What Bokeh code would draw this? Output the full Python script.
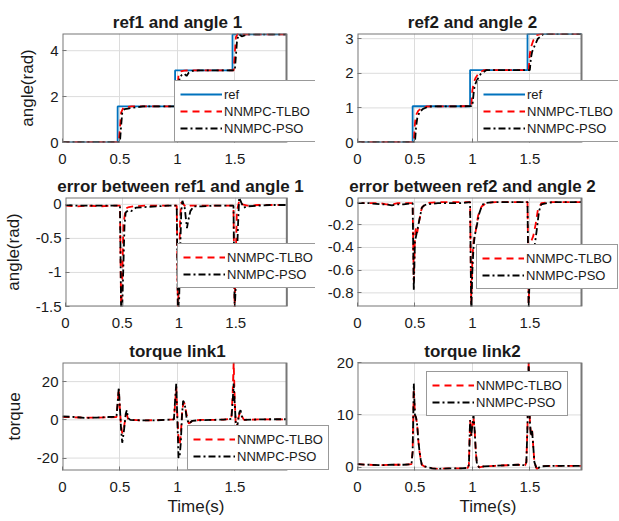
from bokeh.plotting import figure
from bokeh.layouts import column, row
from bokeh.models import Range1d, FixedTicker, CustomJSTickFormatter, Legend, LegendItem
from bokeh.embed import file_html
from bokeh.resources import INLINE

# ---------------- data ----------------
x_ticks = [0, 0.5, 1, 1.5]
x_end = 1.95

# panel 1: ref1 and angle 1
ref1_t = [0, 0.48, 0.48, 0.98, 0.98, 1.48, 1.48, 1.95]
ref1_y = [0, 0, 1.57, 1.57, 3.14, 3.14, 4.71, 4.71]
tlbo1_t = [0, 0.49, 0.50, 0.51, 0.53, 0.56, 0.60, 0.99, 1.00, 1.01, 1.03, 1.06, 1.10, 1.49, 1.50, 1.51, 1.53, 1.56, 1.60, 1.95]
tlbo1_y = [0.02, 0.02, 0.6, 1.3, 1.52, 1.55, 1.57, 1.57, 2.2, 2.95, 3.1, 3.13, 3.14, 3.14, 3.9, 4.6, 4.78, 4.72, 4.71, 4.71]
pso1_t = [0, 0.50, 0.51, 0.52, 0.54, 0.57, 0.62, 0.70, 1.00, 1.01, 1.02, 1.04, 1.06, 1.08, 1.10, 1.13, 1.18, 1.50, 1.51, 1.52, 1.54, 1.56, 1.58, 1.62, 1.95]
pso1_y = [0.02, 0.02, 0.7, 1.3, 1.45, 1.48, 1.52, 1.57, 1.57, 2.3, 2.85, 2.95, 3.0, 2.9, 3.05, 3.12, 3.14, 3.14, 3.8, 4.5, 4.72, 4.62, 4.66, 4.71, 4.71]

# panel 2: ref2 and angle 2
ref2_t = [0, 0.48, 0.48, 0.98, 0.98, 1.48, 1.48, 1.95]
ref2_y = [0, 0, 1.047, 1.047, 2.094, 2.094, 3.14, 3.14]
tlbo2_t = [0, 0.49, 0.50, 0.51, 0.53, 0.56, 0.60, 0.99, 1.00, 1.01, 1.03, 1.06, 1.10, 1.49, 1.50, 1.51, 1.53, 1.56, 1.60, 1.95]
tlbo2_y = [0.01, 0.01, 0.55, 0.8, 0.92, 1.0, 1.04, 1.05, 1.5, 1.72, 1.88, 2.02, 2.09, 2.09, 2.55, 2.75, 2.95, 3.1, 3.14, 3.14]
pso2_t = [0, 0.50, 0.51, 0.52, 0.54, 0.57, 0.62, 1.00, 1.01, 1.02, 1.04, 1.07, 1.12, 1.50, 1.51, 1.52, 1.54, 1.57, 1.62, 1.95]
pso2_y = [0.01, 0.01, 0.45, 0.7, 0.88, 0.97, 1.04, 1.05, 1.4, 1.65, 1.8, 1.97, 2.09, 2.09, 2.45, 2.62, 2.78, 3.0, 3.14, 3.14]

# panel 3: error between ref1 and angle 1
tlbo_e1_t = [0, 0.1, 0.2, 0.3, 0.4, 0.48, 0.49, 0.50, 0.51, 0.53, 0.56, 0.6, 0.7, 0.8, 0.9, 0.98, 0.99, 1.00, 1.01, 1.02, 1.04, 1.06, 1.1, 1.2, 1.3, 1.4, 1.48, 1.49, 1.50, 1.51, 1.53, 1.56, 1.6, 1.7, 1.8, 1.95]
tlbo_e1_y = [-0.02, -0.03, -0.02, -0.03, -0.02, -0.02, -1.57, -1.1, -0.3, -0.06, -0.04, -0.03, -0.02, -0.02, -0.02, -0.02, -1.57, -1.0, -0.2, 0.03, 0.0, -0.04, -0.02, -0.02, -0.02, -0.02, -0.02, -1.57, -0.8, -0.1, 0.05, 0.0, -0.02, -0.01, -0.01, -0.01]
pso_e1_t = [0, 0.1, 0.2, 0.3, 0.4, 0.48, 0.49, 0.50, 0.51, 0.52, 0.53, 0.55, 0.58, 0.62, 0.7, 0.8, 0.9, 0.98, 0.99, 1.00, 1.01, 1.02, 1.03, 1.05, 1.07, 1.08, 1.10, 1.13, 1.2, 1.3, 1.4, 1.48, 1.49, 1.50, 1.51, 1.52, 1.53, 1.55, 1.57, 1.6, 1.7, 1.8, 1.95]
pso_e1_y = [-0.01, -0.02, -0.02, -0.02, -0.02, -0.02, -1.57, -1.5, -0.9, -0.3, -0.12, -0.09, -0.1, -0.05, -0.04, -0.03, -0.02, -0.02, -1.57, -1.5, -0.7, -0.1, 0.05, -0.05, -0.35, -0.25, -0.1, -0.03, -0.03, -0.02, -0.02, -0.02, -1.57, -1.2, -0.8, -0.3, 0.1, 0.02, -0.05, -0.03, -0.02, -0.01, -0.01]

# panel 4: error between ref2 and angle 2
tlbo_e2_t = [0, 0.1, 0.2, 0.25, 0.3, 0.35, 0.4, 0.48, 0.49, 0.50, 0.51, 0.52, 0.54, 0.56, 0.6, 0.7, 0.8, 0.9, 0.98, 0.99, 1.00, 1.01, 1.03, 1.05, 1.08, 1.12, 1.2, 1.3, 1.4, 1.48, 1.49, 1.50, 1.51, 1.53, 1.55, 1.57, 1.6, 1.7, 1.8, 1.95]
tlbo_e2_y = [-0.01, -0.01, -0.01, -0.02, -0.02, -0.01, -0.01, -0.01, -0.7, -0.3, -0.22, -0.27, -0.15, -0.05, -0.01, 0.0, 0.0, 0.0, 0.0, -0.9, -0.5, -0.35, -0.25, -0.12, -0.04, -0.01, 0.0, 0.0, 0.0, 0.0, -0.9, -0.5, -0.35, -0.3, -0.2, -0.07, -0.01, 0.0, 0.0, 0.0]
pso_e2_t = [0, 0.1, 0.2, 0.25, 0.3, 0.35, 0.4, 0.48, 0.49, 0.50, 0.51, 0.52, 0.54, 0.56, 0.58, 0.6, 0.7, 0.8, 0.9, 0.98, 0.99, 1.00, 1.01, 1.02, 1.04, 1.06, 1.08, 1.1, 1.2, 1.3, 1.4, 1.48, 1.49, 1.50, 1.51, 1.52, 1.54, 1.56, 1.58, 1.6, 1.7, 1.8, 1.95]
pso_e2_y = [-0.01, -0.01, -0.02, -0.02, -0.03, -0.02, -0.02, -0.01, -0.78, -0.35, -0.3, -0.25, -0.15, -0.05, -0.03, -0.02, -0.01, -0.01, -0.01, 0.0, -0.95, -0.6, -0.4, -0.3, -0.2, -0.1, -0.04, -0.01, 0.0, 0.0, 0.0, 0.0, -0.95, -0.6, -0.45, -0.42, -0.4, -0.25, -0.08, -0.02, 0.0, 0.0, 0.0]

# panel 5: torque link1
tlbo_u1_t = [0, 0.1, 0.2, 0.3, 0.4, 0.47, 0.48, 0.49, 0.50, 0.51, 0.52, 0.53, 0.54, 0.55, 0.56, 0.57, 0.59, 0.7, 0.8, 0.9, 0.97, 0.98, 0.99, 1.00, 1.01, 1.02, 1.03, 1.04, 1.05, 1.06, 1.08, 1.10, 1.13, 1.2, 1.3, 1.4, 1.47, 1.48, 1.49, 1.50, 1.51, 1.52, 1.54, 1.55, 1.56, 1.58, 1.7, 1.8, 1.95]
tlbo_u1_y = [1.5, 1.3, 1.2, 1.2, 1.3, 1.5, 8, 16, 5, -3, -7, -6, -2, 2, 3, 0.5, 0, -0.3, -0.2, 0, 0.2, 8, 17, 2, -10, -13, -8, 3, 8, 9, 3, -2, -0.5, 0, 0, 0.1, 0.5, 12, 30, 10, -5, -2, 3, 4, 2, 0, 0.2, 0.2, 0.2]
pso_u1_t = [0, 0.1, 0.2, 0.3, 0.4, 0.47, 0.48, 0.49, 0.50, 0.51, 0.52, 0.53, 0.54, 0.55, 0.56, 0.57, 0.59, 0.7, 0.8, 0.9, 0.97, 0.98, 0.99, 1.00, 1.01, 1.02, 1.03, 1.04, 1.05, 1.06, 1.07, 1.08, 1.10, 1.13, 1.2, 1.3, 1.4, 1.47, 1.48, 1.49, 1.50, 1.51, 1.52, 1.53, 1.54, 1.55, 1.56, 1.58, 1.7, 1.8, 1.95]
pso_u1_y = [1.8, 1.5, 1.0, 1.2, 1.5, 1.6, 9, 17, 6, -5, -12, -8, -3, 3, 5, 1, 0, -0.3, -0.3, 0, 0.3, 10, 19, 0, -20, -19, -12, 2, 10, 9, 6, 1, -2, -0.5, -0.2, 0, 0.1, 0.5, 8, 19, 8, -3, -4, 0, 4, 5, 2, 0, 0.2, 0.3, 0.3]

# panel 6: torque link2
tlbo_u2_t = [0, 0.1, 0.2, 0.3, 0.4, 0.47, 0.48, 0.49, 0.50, 0.51, 0.52, 0.53, 0.54, 0.55, 0.56, 0.58, 0.65, 0.7, 0.8, 0.9, 0.96, 0.97, 0.98, 0.99, 1.00, 1.01, 1.02, 1.03, 1.04, 1.06, 1.1, 1.2, 1.3, 1.4, 1.46, 1.47, 1.48, 1.49, 1.50, 1.51, 1.52, 1.53, 1.54, 1.56, 1.6, 1.7, 1.8, 1.95]
tlbo_u2_y = [0.6, 0.5, 0.4, 0.5, 0.5, 0.6, 3, 15, 10, 9.5, 8, 5, 3, 1.5, 0.5, 0.2, -0.2, -0.3, -0.2, -0.2, -0.1, 0.5, 9, 6, 8, 9.5, 7, 3, 0.5, 0, 0.2, 0.3, 0.4, 0.5, 0.4, 1, 8, 20, 9, 6, 7, 4, 1, -0.3, 0.2, 0.3, 0.3, 0.3]
pso_u2_t = [0, 0.1, 0.2, 0.3, 0.4, 0.47, 0.48, 0.49, 0.50, 0.51, 0.52, 0.53, 0.54, 0.55, 0.56, 0.58, 0.65, 0.7, 0.8, 0.9, 0.96, 0.97, 0.98, 0.99, 1.00, 1.01, 1.02, 1.03, 1.04, 1.06, 1.1, 1.2, 1.3, 1.4, 1.46, 1.47, 1.48, 1.49, 1.50, 1.51, 1.52, 1.53, 1.54, 1.56, 1.6, 1.7, 1.8, 1.95]
pso_u2_y = [0.6, 0.5, 0.4, 0.5, 0.5, 0.6, 3, 16, 10, 9.5, 8, 5, 3, 1.5, 0.5, 0.2, -0.2, -0.3, -0.2, -0.2, -0.1, 0.5, 9, 6, 8, 10, 7, 3, 0.5, 0, 0.2, 0.3, 0.4, 0.5, 0.4, 1, 8, 20, 9, 6, 7, 4, 1, -0.3, 0.2, 0.3, 0.3, 0.3]

# ---------------- styling ----------------
FONT = "Liberation Sans"
TXT = "#1a1a1a"
FRAME = "#777777"
GRID = "#dcdcdc"
BLUE = "#0072BD"
RED = "#FF0000"
BLACK = "#000000"
BOX_PX = 224  # width of the drawn axes box in pixels
TITLE_PX = 17

# approximate advance widths (1/1000 em) of Liberation Sans Bold, used to centre titles on the box
_BOLD_W = {" ": 278, "a": 556, "b": 611, "d": 611, "e": 556, "f": 333, "g": 611, "i": 278,
           "k": 556, "l": 278, "n": 611, "o": 611, "q": 611, "r": 389, "t": 333, "u": 611,
           "w": 778, "1": 556, "2": 556}


def title_width(s):
    return sum(_BOLD_W.get(c, 580) for c in s) * TITLE_PX / 1000.0


fmt = CustomJSTickFormatter(code="return String(tick);")


def make_fig(title, w, h, bl, bt, bb, yr, yticks, xlabel=None, ylabel=None):
    br = 1
    frame_px = w - bl - br
    # the frame is wider than the drawn box so that legends may overhang the box
    xr_end = x_end * frame_px / BOX_PX
    p = figure(width=w, height=h, output_backend="svg", toolbar_location=None,
               x_range=Range1d(0, xr_end), y_range=Range1d(*yr),
               min_border_left=bl, min_border_right=br,
               min_border_top=bt, min_border_bottom=bb,
               background_fill_color="white", border_fill_color="white")
    p.title.text = title
    p.title.align = "left"
    p.title.offset = BOX_PX / 2 - title_width(title) / 2 + 3
    p.title.text_font = FONT
    p.title.text_font_size = "%dpx" % TITLE_PX
    p.title.text_font_style = "bold"
    p.title.text_color = TXT
    p.title.standoff = 4
    p.outline_line_color = None
    p.xaxis.ticker = FixedTicker(ticks=x_ticks)
    p.yaxis.ticker = FixedTicker(ticks=yticks)
    for ax in (p.xaxis, p.yaxis):
        ax.formatter = fmt
        ax.axis_line_color = None
        ax.major_tick_in = 4
        ax.major_tick_out = 0
        ax.major_tick_line_color = FRAME
        ax.minor_tick_line_color = None
        ax.major_label_text_font = FONT
        ax.major_label_text_font_size = "15px"
        ax.major_label_text_color = TXT
        ax.axis_label_text_font = FONT
        ax.axis_label_text_font_size = "17px"
        ax.axis_label_text_font_style = "normal"
        ax.axis_label_text_color = TXT
    p.xaxis.major_label_standoff = 11
    p.xaxis.axis_label_standoff = 2
    p.yaxis.major_label_standoff = 4
    p.yaxis.axis_label_standoff = 10
    if xlabel:
        p.xaxis.axis_label = xlabel
    if ylabel:
        p.yaxis.axis_label = ylabel
    p.xgrid.grid_line_color = GRID
    p.ygrid.grid_line_color = None
    # horizontal grid lines limited to the axes box
    p.segment(x0=[0] * len(yticks), x1=[x_end] * len(yticks), y0=yticks, y1=yticks,
              line_color=GRID, line_width=1)
    return p


def add_lines(p, series, loc, yr):
    items = []
    for label, t, y, color, dash in series:
        r = p.line(t, y, line_color=color, line_width=1.8, line_dash=dash)
        items.append(LegendItem(label=label, renderers=[r]))
    # axes box (MATLAB style)
    p.quad(left=[0], right=[x_end], bottom=[yr[0]], top=[yr[1]],
           fill_color=None, line_color=FRAME, line_width=2)
    lg = Legend(items=items, location=loc, margin=0, padding=5, spacing=1,
                glyph_width=42, glyph_height=16, label_height=16, label_standoff=2,
                label_text_font=FONT, label_text_font_size="13px", label_text_color=TXT,
                border_line_color="#333333", border_line_width=1,
                background_fill_color="white", background_fill_alpha=1.0)
    p.add_layout(lg)


# canvas widths / left borders (screen pixels)
LW, RW = 316, 303
LBL, RBL = 62, 41
LW3, RW3 = 330, 289
RBL3 = 27

yr1, yr2 = (0, 4.75), (0, 3.15)
yr3, yr4 = (-1.5, 0.1), (-0.92, 0.04)
yr5, yr6 = (-26.5, 30), (-0.6, 20)

# row 1
p1 = make_fig("ref1 and angle 1", LW, 172, LBL, 33, 30, yr1, [0, 2, 4], ylabel="angle(rad)")
add_lines(p1, [("ref", ref1_t, ref1_y, BLUE, "solid"),
               ("NNMPC-TLBO", tlbo1_t, tlbo1_y, RED, "7 5"),
               ("NNMPC-PSO", pso1_t, pso1_y, BLACK, "7 3 2 3")], (112, 0), yr1)
p2 = make_fig("ref2 and angle 2", RW, 172, RBL, 33, 30, yr2, [0, 1, 2, 3])
add_lines(p2, [("ref", ref2_t, ref2_y, BLUE, "solid"),
               ("NNMPC-TLBO", tlbo2_t, tlbo2_y, RED, "7 5"),
               ("NNMPC-PSO", pso2_t, pso2_y, BLACK, "7 3 2 3")], (120, 0), yr2)

# row 2
p3 = make_fig("error between ref1 and angle 1", LW, 165, LBL, 25, 31, yr3, [-1.5, -1, -0.5, 0], ylabel="angle(rad)")
add_lines(p3, [("NNMPC-TLBO", tlbo_e1_t, tlbo_e1_y, RED, "7 5"),
               ("NNMPC-PSO", pso_e1_t, pso_e1_y, BLACK, "7 3 2 3")], (112, 18), yr3)
p4 = make_fig("error between ref2 and angle 2", RW, 165, RBL, 25, 31, yr4, [-0.8, -0.6, -0.4, -0.2, 0])
add_lines(p4, [("NNMPC-TLBO", tlbo_e2_t, tlbo_e2_y, RED, "7 5"),
               ("NNMPC-PSO", pso_e2_t, pso_e2_y, BLACK, "7 3 2 3")], (119, 17), yr4)

# row 3
p5 = make_fig("torque link1", LW3, 184, LBL, 25, 51, yr5, [-20, 0, 20], xlabel="Time(s)", ylabel="torque")
add_lines(p5, [("NNMPC-TLBO", tlbo_u1_t, tlbo_u1_y, RED, "7 5"),
               ("NNMPC-PSO", pso_u1_t, pso_u1_y, BLACK, "7 3 2 3")], (125, 0), yr5)
p6 = make_fig("torque link2", RW3, 184, RBL3, 25, 51, yr6, [0, 10, 20], xlabel="Time(s)")
add_lines(p6, [("NNMPC-TLBO", tlbo_u2_t, tlbo_u2_y, RED, "7 5"),
               ("NNMPC-PSO", pso_u2_t, pso_u2_y, BLACK, "7 3 2 3")], (69, 54), yr6)

layout = column(row(p1, p2), row(p3, p4), row(p5, p6))
open("out.html", "w").write(file_html(layout, INLINE))
